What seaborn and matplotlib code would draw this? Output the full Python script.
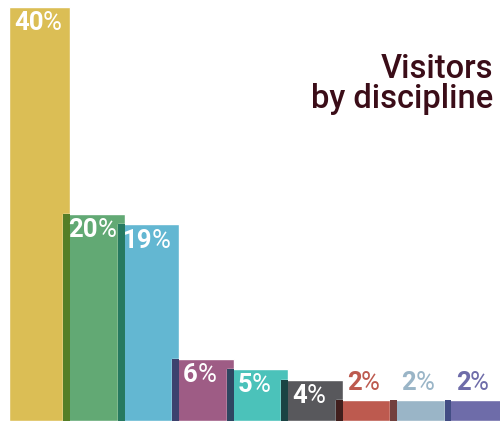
import numpy as np
import matplotlib.pyplot as plt
import matplotlib.colors as mcolors
import seaborn as sns

# data
disciplines = ['d1', 'd2', 'd3', 'd4', 'd5', 'd6', 'd7', 'd8', 'd9']
shares = [40, 20, 19, 6, 5, 4, 2, 2, 2]
colors = ['#dbbe55', '#62a974', '#63b7d2', '#9e5c85', '#4bc2ba',
          '#58585c', '#bd5a4f', '#9ab5c7', '#6e6ca9']
inside = [True, True, True, True, True, True, False, False, False]

sns.set_style('white')
plt.rcParams['font.family'] = ['Roboto', 'DejaVu Sans']

fig = plt.figure(figsize=(5, 4.21), dpi=100)
ax = fig.add_axes([0, 0, 1, 1])

bar_w = 1.12
sns.barplot(x=disciplines, y=shares, hue=disciplines, palette=colors,
            legend=False, width=bar_w, saturation=1, ax=ax)

# darker strip where neighbouring bars overlap (multiply blend)
rgb = [np.array(mcolors.to_rgb(c)) for c in colors]
for i in range(1, len(shares)):
    ax.bar(i - 0.5, min(shares[i - 1], shares[i]), width=bar_w - 1,
           color=rgb[i - 1] * rgb[i], linewidth=0, zorder=3)

# labels: bold number + lighter percent sign
for i, v in enumerate(shares):
    num = str(v)
    split = 4 if len(num) == 2 else -5
    if inside[i]:
        col, dy, va = 'white', -3, 'top'
    else:
        col, dy, va = colors[i], 4, 'bottom'
    ax.annotate(num, (i, v), xytext=(split * 0.72, dy), textcoords='offset points',
                ha='right', va=va, color=col, fontsize=18.5, fontweight='bold', zorder=5)
    ax.annotate('%', (i, v), xytext=(split * 0.72 - 0.5, dy), textcoords='offset points',
                ha='left', va=va, color=col, fontsize=18.5, fontweight='normal', zorder=5)

ax.text(0.986, 0.875, 'Visitors\nby discipline', transform=ax.transAxes,
        ha='right', va='top', fontsize=23.5, fontweight='medium',
        color='#3b0d18', linespacing=0.92)

ax.set_xlim(-0.725, 8.45)
ax.set_ylim(0, 40.68)
ax.axis('off')

fig.savefig('out.png', dpi=100)
